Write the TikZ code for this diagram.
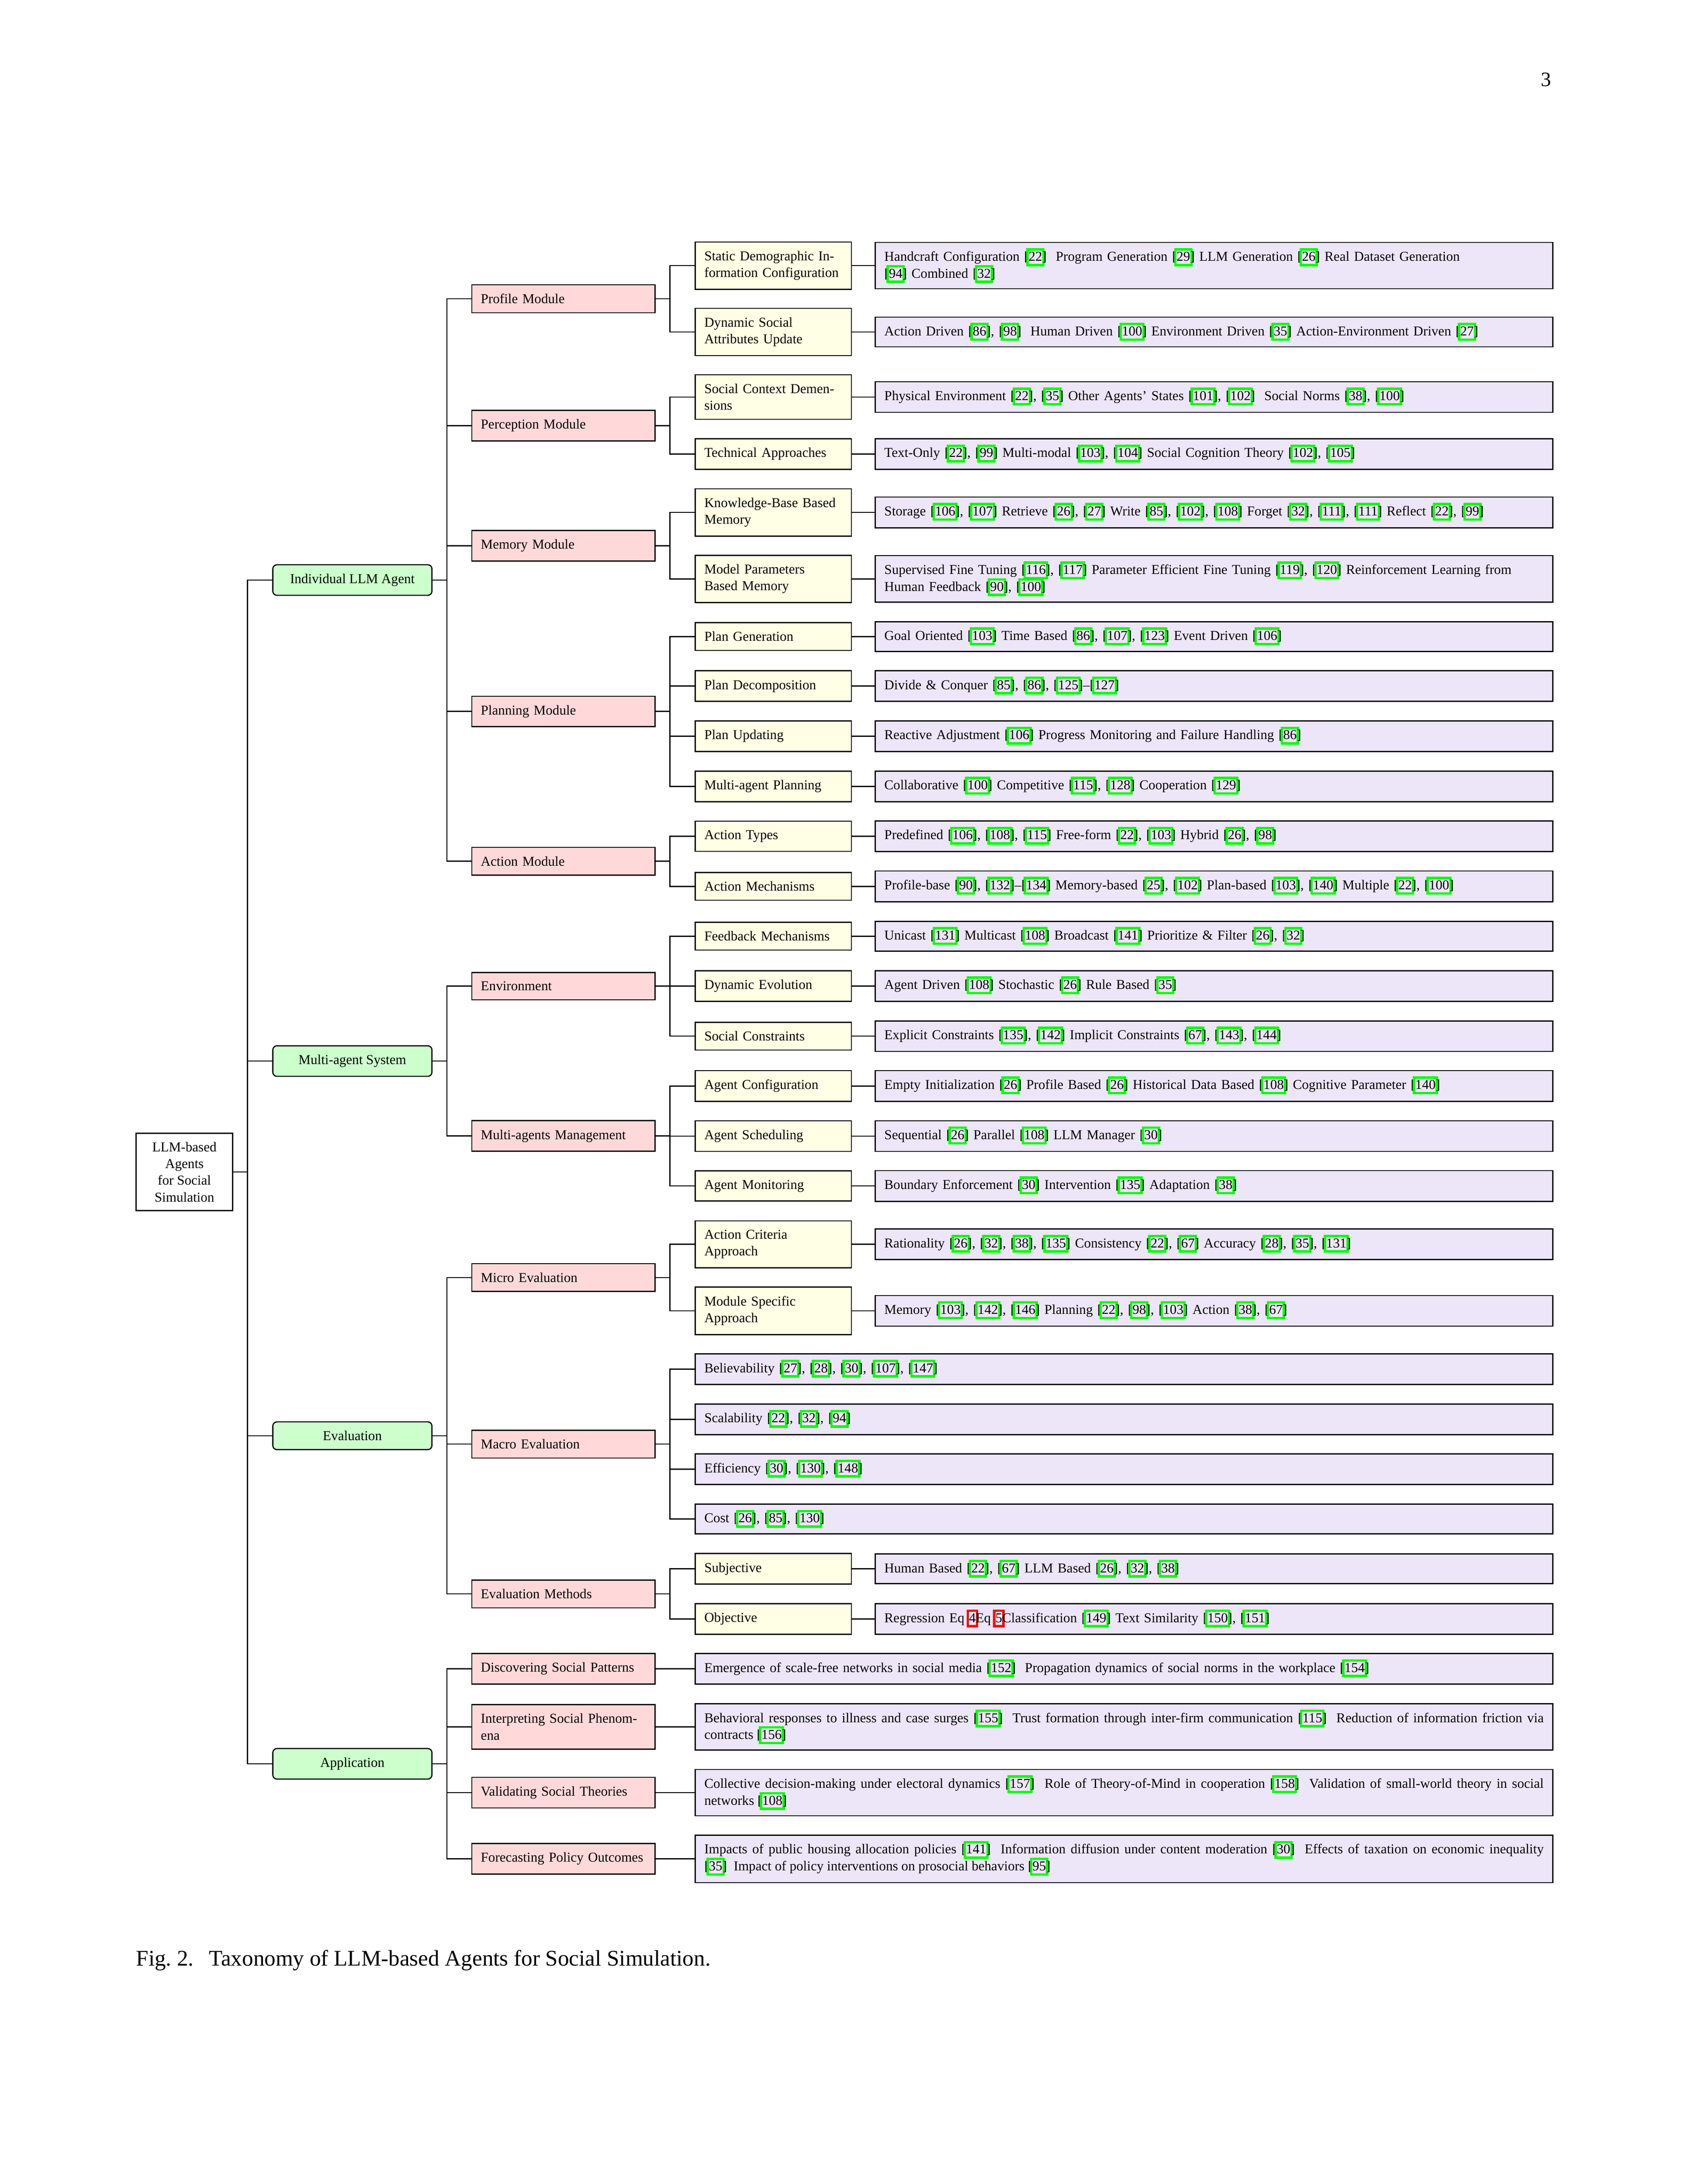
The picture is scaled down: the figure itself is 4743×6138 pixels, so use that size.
\documentclass[tikz,border=0pt]{standalone}
\usepackage{fontspec}
\setmainfont{Liberation Serif}
\usepackage{xcolor}
\definecolor{gfill}{RGB}{204,255,204}
\definecolor{pfill}{RGB}{255,217,217}
\definecolor{yfill}{RGB}{255,255,229}
\definecolor{vfill}{RGB}{236,230,248}
\definecolor{cgreen}{RGB}{0,255,0}
\definecolor{cred}{RGB}{255,0,0}
\newcommand\fs{\fontsize{4.93}{6.07}\selectfont}
\newcommand\bxc[2]{\makebox[0pt][l]{\hspace*{-0.85pt}\smash{\textcolor{#1}{\fboxsep=0pt\fboxrule=0.85pt\fbox{\phantom{#2}\rule[-1.0pt]{0pt}{4.8pt}}}}}#2}
\newcommand\ct[1]{[\bxc{cgreen}{#1}]}
\newcommand\rb[1]{\bxc{cred}{#1}}
\begin{document}
\begin{tikzpicture}[x=0.129032pt,y=-0.129032pt,
  box/.style={draw, line width=0.42pt, font=\fs, inner sep=3.3pt, anchor=west},
  rootbox/.style={box, align=center, minimum width=35pt, inner ysep=3.2pt},
  grn/.style={box, fill=gfill, rounded corners=1.5pt, align=center, minimum width=57.7pt},
  pnk/.style={box, fill=pfill, text width=59.85pt, align=left},
  yel/.style={box, fill=yfill, text width=50.05pt, align=left},
  vio/.style={box, fill=vfill, text width=239.07pt, align=left},
  viow/.style={box, fill=vfill, text width=304.36pt, align=left},
  viowj/.style={box, fill=vfill, text width=304.36pt, align=justify},
  link/.style={line width=0.42pt},
]
\useasboundingbox (0,0) rectangle (4743,6138);

% page number and caption
\node[font=\fontsize{7.4}{9}\selectfont, anchor=base east, inner sep=0pt] (pg) at (4361,243) {3};
\node[font=\fontsize{8.1}{9.7}\selectfont, anchor=base west, inner sep=0pt] (cap) at (381,5525) {Fig.~2.\hspace{5.5pt}Taxonomy of LLM-based Agents for Social Simulation.};

% root
\node[rootbox] (root) at (381,3293.6) {LLM-based\\Agents\\for Social\\Simulation};

% level 1
\node[grn] (g1) at (765,1630.1) {Individual LLM Agent};
\node[grn] (g2) at (765,2982) {Multi-agent System};
\node[grn] (g3) at (765,4035) {Evaluation};
\node[grn] (g4) at (765,4957) {Application};

% level 2
\node[pnk] (p1) at (1324,839.75) {Profile Module};
\node[pnk] (p2) at (1324,1196) {Perception Module};
\node[pnk] (p3) at (1324,1533.5) {Memory Module};
\node[pnk] (p4) at (1324,1999.5) {Planning Module};
\node[pnk] (p5) at (1324,2420.5) {Action Module};
\node[pnk] (p6) at (1324,2771.5) {Environment};
\node[pnk] (p7) at (1324,3192.5) {Multi-agents Management};
\node[pnk] (p8) at (1324,3590.5) {Micro Evaluation};
\node[pnk] (p9) at (1324,4058.5) {Macro Evaluation};
\node[pnk] (p10) at (1324,4479.5) {Evaluation Methods};
\node[pnk] (p11) at (1324,4690) {Discovering Social Patterns};
\node[pnk] (p12) at (1324,4853) {Interpreting Social Phenom-\\ena};
\node[pnk] (p13) at (1324,5038) {Validating Social Theories};
\node[pnk] (p14) at (1324,5224) {Forecasting Policy Outcomes};

% level 3 (yellow) and level 4 (purple)
\node[yel] (y1) at (1952,746.5) {Static Demographic In-\\formation Configuration};
\node[vio] (v1) at (2458,746.5) {Handcraft Configuration \ct{22}~\ Program Generation \ct{29} LLM Generation \ct{26} Real Dataset Generation\\\ct{94} Combined \ct{32}};
\node[yel] (y2) at (1952,933) {Dynamic Social\\Attributes Update};
\node[vio] (v2) at (2458,933) {Action Driven \ct{86}, \ct{98}~\ Human Driven \ct{100} Environment Driven \ct{35} Action-Environment Driven \ct{27}};
\node[yel] (y3) at (1952,1116) {Social Context Demen-\\sions};
\node[vio] (v3) at (2458,1116) {Physical Environment \ct{22}, \ct{35} Other Agents' States \ct{101}, \ct{102}~\ Social Norms \ct{38}, \ct{100}};
\node[yel] (y4) at (1952,1276) {Technical Approaches};
\node[vio] (v4) at (2458,1276) {Text-Only \ct{22}, \ct{99} Multi-modal \ct{103}, \ct{104} Social Cognition Theory \ct{102}, \ct{105}};
\node[yel] (y5) at (1952,1440) {Knowledge-Base Based\\Memory};
\node[vio] (v5) at (2458,1440) {Storage \ct{106}, \ct{107} Retrieve \ct{26}, \ct{27} Write \ct{85}, \ct{102}, \ct{108} Forget \ct{32}, \ct{111}, \ct{111} Reflect \ct{22}, \ct{99}};
\node[yel] (y6) at (1952,1627) {Model Parameters\\Based Memory};
\node[vio] (v6) at (2458,1627) {Supervised Fine Tuning \ct{116}, \ct{117} Parameter Efficient Fine Tuning \ct{119}, \ct{120} Reinforcement Learning from\\Human Feedback \ct{90}, \ct{100}};
\node[yel] (y7) at (1952,1789) {Plan Generation};
\node[vio] (v7) at (2458,1789) {Goal Oriented \ct{103} Time Based \ct{86}, \ct{107}, \ct{123} Event Driven \ct{106}};
\node[yel] (y8) at (1952,1928) {Plan Decomposition};
\node[vio] (v8) at (2458,1928) {Divide \& Conquer \ct{85}, \ct{86}, \ct{125}--\ct{127}};
\node[yel] (y9) at (1952,2069) {Plan Updating};
\node[vio] (v9) at (2458,2069) {Reactive Adjustment \ct{106} Progress Monitoring and Failure Handling \ct{86}};
\node[yel] (y10) at (1952,2210) {Multi-agent Planning};
\node[vio] (v10) at (2458,2210) {Collaborative \ct{100} Competitive \ct{115}, \ct{128} Cooperation \ct{129}};
\node[yel] (y11) at (1952,2350) {Action Types};
\node[vio] (v11) at (2458,2350) {Predefined \ct{106}, \ct{108}, \ct{115} Free-form \ct{22}, \ct{103} Hybrid \ct{26}, \ct{98}};
\node[yel] (y12) at (1952,2491) {Action Mechanisms};
\node[vio] (v12) at (2458,2491) {Profile-base \ct{90}, \ct{132}--\ct{134} Memory-based \ct{25}, \ct{102} Plan-based \ct{103}, \ct{140} Multiple \ct{22}, \ct{100}};
\node[yel] (y13) at (1952,2631) {Feedback Mechanisms};
\node[vio] (v13) at (2458,2631) {Unicast \ct{131} Multicast \ct{108} Broadcast \ct{141} Prioritize \& Filter \ct{26}, \ct{32}};
\node[yel] (y14) at (1952,2771) {Dynamic Evolution};
\node[vio] (v14) at (2458,2771) {Agent Driven \ct{108} Stochastic \ct{26} Rule Based \ct{35}};
\node[yel] (y15) at (1952,2912) {Social Constraints};
\node[vio] (v15) at (2458,2912) {Explicit Constraints \ct{135}, \ct{142} Implicit Constraints \ct{67}, \ct{143}, \ct{144}};
\node[yel] (y16) at (1952,3052) {Agent Configuration};
\node[vio] (v16) at (2458,3052) {Empty Initialization \ct{26} Profile Based \ct{26} Historical Data Based \ct{108} Cognitive Parameter \ct{140}};
\node[yel] (y17) at (1952,3193) {Agent Scheduling};
\node[vio] (v17) at (2458,3193) {Sequential \ct{26} Parallel \ct{108} LLM Manager \ct{30}};
\node[yel] (y18) at (1952,3333) {Agent Monitoring};
\node[vio] (v18) at (2458,3333) {Boundary Enforcement \ct{30} Intervention \ct{135} Adaptation \ct{38}};
\node[yel] (y19) at (1952,3497) {Action Criteria\\Approach};
\node[vio] (v19) at (2458,3497) {Rationality \ct{26}, \ct{32}, \ct{38}, \ct{135} Consistency \ct{22}, \ct{67} Accuracy \ct{28}, \ct{35}, \ct{131}};
\node[yel] (y20) at (1952,3684) {Module Specific\\Approach};
\node[vio] (v20) at (2458,3684) {Memory \ct{103}, \ct{142}, \ct{146} Planning \ct{22}, \ct{98}, \ct{103} Action \ct{38}, \ct{67}};
\node[viow] (w21) at (1952,3848) {Believability \ct{27}, \ct{28}, \ct{30}, \ct{107}, \ct{147}};
\node[viow] (w22) at (1952,3989) {Scalability \ct{22}, \ct{32}, \ct{94}};
\node[viow] (w23) at (1952,4129) {Efficiency \ct{30}, \ct{130}, \ct{148}};
\node[viow] (w24) at (1952,4269) {Cost \ct{26}, \ct{85}, \ct{130}};
\node[yel] (y25) at (1952,4409) {Subjective};
\node[vio] (v25) at (2458,4409) {Human Based \ct{22}, \ct{67} LLM Based \ct{26}, \ct{32}, \ct{38}};
\node[yel] (y26) at (1952,4550) {Objective};
\node[vio] (v26) at (2458,4550) {Regression Eq~\rb{4}Eq~\rb{5}Classification \ct{149} Text Similarity \ct{150}, \ct{151}};
\node[viow] (w27) at (1952,4690) {Emergence of scale-free networks in social media \ct{152}~\ Propagation dynamics of social norms in the workplace \ct{154}};
\node[viowj] (w28) at (1952,4853) {Behavioral responses to illness and case surges \ct{155}~\ Trust formation through inter-firm communication \ct{115}~\ Reduction of information friction via\linebreak contracts \ct{156}};
\node[viowj] (w29) at (1952,5038) {Collective decision-making under electoral dynamics \ct{157}~\ Role of Theory-of-Mind in cooperation \ct{158}~\ Validation of small-world theory in social\linebreak networks \ct{108}};
\node[viowj] (w30) at (1952,5224) {Impacts of public housing allocation policies \ct{141}~\ Information diffusion under content moderation \ct{30}~\ Effects of taxation on economic inequality\linebreak \ct{35}~\ Impact of policy interventions on prosocial behaviors \ct{95}};

% connectors
\foreach \c in {g1,g2,g3,g4} \draw[link] (root.east) -- ++(5.2pt,0) |- (\c.west);
\foreach \c in {p1,p2,p3,p4,p5} \draw[link] (g1.east) -- ++(5.2pt,0) |- (\c.west);
\foreach \c in {p6,p7} \draw[link] (g2.east) -- ++(5.2pt,0) |- (\c.west);
\foreach \c in {p8,p9,p10} \draw[link] (g3.east) -- ++(5.2pt,0) |- (\c.west);
\foreach \c in {p11,p12,p13,p14} \draw[link] (g4.east) -- ++(5.2pt,0) |- (\c.west);
\foreach \c in {y1,y2} \draw[link] (p1.east) -- ++(5.2pt,0) |- (\c.west);
\foreach \c in {y3,y4} \draw[link] (p2.east) -- ++(5.2pt,0) |- (\c.west);
\foreach \c in {y5,y6} \draw[link] (p3.east) -- ++(5.2pt,0) |- (\c.west);
\foreach \c in {y7,y8,y9,y10} \draw[link] (p4.east) -- ++(5.2pt,0) |- (\c.west);
\foreach \c in {y11,y12} \draw[link] (p5.east) -- ++(5.2pt,0) |- (\c.west);
\foreach \c in {y13,y14,y15} \draw[link] (p6.east) -- ++(5.2pt,0) |- (\c.west);
\foreach \c in {y16,y17,y18} \draw[link] (p7.east) -- ++(5.2pt,0) |- (\c.west);
\foreach \c in {y19,y20} \draw[link] (p8.east) -- ++(5.2pt,0) |- (\c.west);
\foreach \c in {w21,w22,w23,w24} \draw[link] (p9.east) -- ++(5.2pt,0) |- (\c.west);
\foreach \c in {y25,y26} \draw[link] (p10.east) -- ++(5.2pt,0) |- (\c.west);
\draw[link] (p11.east) -- (w27.west);
\draw[link] (p12.east) -- (w28.west);
\draw[link] (p13.east) -- (w29.west);
\draw[link] (p14.east) -- (w30.west);
\foreach \n in {1,...,20,25,26} \draw[link] (y\n.east) -- (v\n.west);
\end{tikzpicture}
\end{document}
